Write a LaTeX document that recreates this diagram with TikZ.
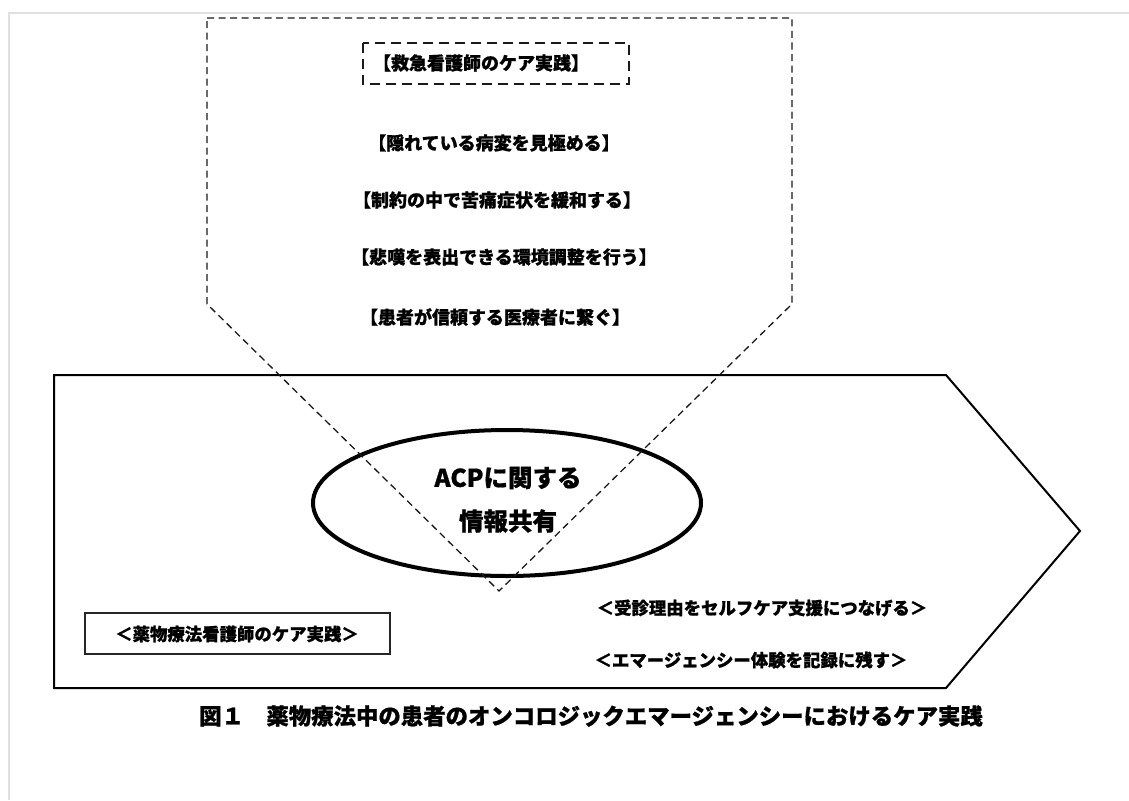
\documentclass[tikz,border=0pt]{standalone}
\usepackage{fontspec}
\setmainfont{Noto Sans CJK JP}
\newfontfamily\jp{Noto Sans CJK JP}[BoldFeatures={FakeBold=0.8}]
\begin{document}
\begin{tikzpicture}[x=1pt,y=-1pt,
  frameline/.style={draw=black!12, line width=2.5pt},
  bigdash/.style={draw=black!90, line width=1.3pt, dash pattern=on 7pt off 4.5pt},
  boxdash/.style={draw=black!90, line width=2.3pt, dash pattern=on 10pt off 6pt},
  arrowshape/.style={draw=black, line width=2pt, line join=miter},
  txttop/.style={font=\jp\bfseries\fontsize{18}{20}\selectfont, inner sep=0pt},
  txtmid/.style={font=\jp\bfseries\fontsize{17.4}{20}\selectfont, inner sep=0pt},
  txtacp/.style={font=\jp\bfseries\fontsize{24.5}{28}\selectfont, inner sep=0pt},
  txtcap/.style={font=\jp\bfseries\fontsize{22.4}{26}\selectfont, inner sep=0pt},
  solidbox/.style={draw=black!85, line width=1.4pt}]
\useasboundingbox (0,0) rectangle (1129,800);
\fill[white] (0,0) rectangle (1129,800);
% page frame
\coordinate (fa) at (9,800);
\coordinate (fb) at (9,13);
\coordinate (fc) at (1129,13);
\draw[frameline] (fa) -- (fb) -- (fc);
% right-pointing arrow
\coordinate (a1) at (54,375);
\coordinate (a2) at (946,375);
\coordinate (a3) at (1080,531);
\coordinate (a4) at (946,688);
\coordinate (a5) at (54,688);
\draw[arrowshape] (a1) -- (a2) -- (a3) -- (a4) -- (a5) -- cycle;
% ellipse
\coordinate (ec) at (507,503);
\draw[line width=4pt] (ec) ellipse [x radius=194, y radius=73];
\node[txtacp] (acp1) at (508,478) {ACPに関する};
\node[txtacp] (acp2) at (508,521) {情報共有};
% downward dashed pentagon
\coordinate (p1) at (207,18);
\coordinate (p2) at (792,18);
\coordinate (p3) at (792,304);
\coordinate (p4) at (499,591);
\coordinate (p5) at (207,304);
\draw[bigdash] (p1) -- (p2) -- (p3) -- (p4) -- (p5) -- cycle;
% header box
\coordinate (h1) at (363,43);
\coordinate (h2) at (629,84);
\draw[boxdash] (h1) rectangle (h2);
\node[txttop] (hdr) at (481,63) {【救急看護師のケア実践】};
\node[txttop] (t1) at (494,143) {【隠れている病変を見極める】};
\node[txttop] (t2) at (497,200) {【制約の中で苦痛症状を緩和する】};
\node[txttop] (t3) at (504,257) {【悲嘆を表出できる環境調整を行う】};
\node[txttop] (t4) at (495,317) {【患者が信頼する医療者に繋ぐ】};
% lower texts
\coordinate (b1) at (85,613);
\coordinate (b2) at (390,654);
\draw[solidbox] (b1) rectangle (b2);
\node[txtmid] (box) at (237,634) {＜薬物療法看護師のケア実践＞};
\node[txtmid] (r1) at (762,608) {＜受診理由をセルフケア支援につなげる＞};
\node[txtmid] (r2) at (751,660) {＜エマージェンシー体験を記録に残す＞};
% caption
\node[txtcap] (cap) at (591,716) {図１　薬物療法中の患者のオンコロジックエマージェンシーにおけるケア実践};
\end{tikzpicture}
\end{document}
